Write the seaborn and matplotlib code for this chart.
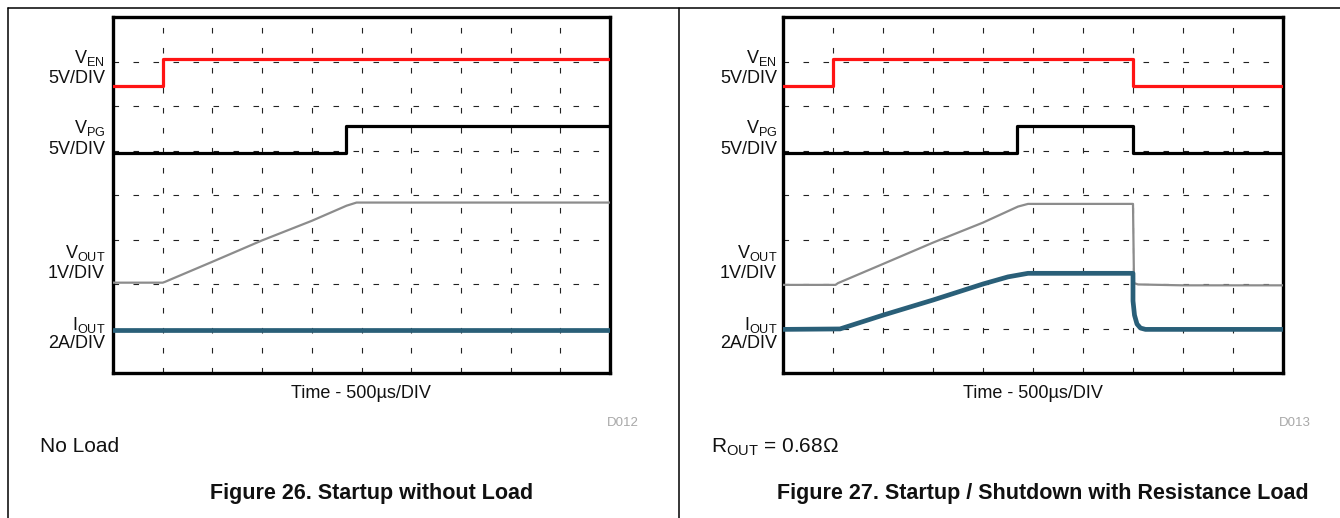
import matplotlib
matplotlib.use("Agg")
import matplotlib.pyplot as plt
from matplotlib.lines import Line2D
import seaborn as sns

# ---------------- data (time in divisions, amplitude in divisions) ----------------
# Figure 26 - Startup without load
t_en_L = [0, 1.0, 1.0, 10]
v_en_L = [6.45, 6.45, 7.06, 7.06]
t_pg_L = [0, 4.69, 4.69, 10]
v_pg_L = [4.95, 4.95, 5.55, 5.55]
t_out_L = [0, 1.0, 1.05, 2.0, 3.0, 4.0, 4.7, 4.9, 10]
v_out_L = [2.03, 2.03, 2.05, 2.50, 2.98, 3.42, 3.76, 3.83, 3.83]
t_iout_L = [0, 10]
v_iout_L = [0.97, 0.97]

# Figure 27 - Startup / shutdown with resistance load
t_en_R = [0, 1.0, 1.0, 7.0, 7.0, 10]
v_en_R = [6.45, 6.45, 7.06, 7.06, 6.45, 6.45]
t_pg_R = [0, 4.68, 4.68, 7.0, 7.0, 10]
v_pg_R = [4.95, 4.95, 5.55, 5.55, 4.95, 4.95]
t_out_R = [0, 1.05, 1.1, 2.0, 3.0, 4.0, 4.7, 4.9, 7.0, 7.02, 7.1, 8.0, 10]
v_out_R = [1.98, 1.98, 2.02, 2.45, 2.93, 3.38, 3.74, 3.80, 3.80, 2.02, 1.99, 1.97, 1.97]
t_iout_R = [0, 1.14, 2.0, 3.0, 4.0, 4.5, 4.9, 7.0, 7.0, 7.03, 7.08, 7.15, 7.25, 10]
v_iout_R = [0.98, 0.99, 1.30, 1.64, 2.00, 2.16, 2.24, 2.24, 1.62, 1.30, 1.10, 1.01, 0.98, 0.98]

ch_labels = [("V", "EN", "5V/DIV"), ("V", "PG", "5V/DIV"), ("V", "OUT", "1V/DIV"), ("I", "OUT", "2A/DIV")]
x_label = "Time - 500µs/DIV"
codes = ["D012", "D013"]
titles = ["Figure 26. Startup without Load", "Figure 27. Startup / Shutdown with Resistance Load"]

# ---------------- style ----------------
sns.set_theme(style="white")
plt.rcParams["font.family"] = ["Liberation Sans", "DejaVu Sans"]
plt.rcParams["mathtext.fontset"] = "custom"
plt.rcParams["mathtext.rm"] = "Liberation Sans"
plt.rcParams["mathtext.it"] = "Liberation Sans"

W, H = 1340, 518
fig = plt.figure(figsize=(W / 100, H / 100), dpi=100)
fig.patch.set_facecolor("white")

def fx(px):
    return px / W

def fy(py):
    return 1 - py / H

C_EN = "#ff1414"
C_PG = "#000000"
C_OUT = "#8c8c8c"
C_I = "#2a5f78"

panels = [
    dict(left=113, right=610, series=[(t_en_L, v_en_L), (t_pg_L, v_pg_L), (t_out_L, v_out_L), (t_iout_L, v_iout_L)],
         lab_x=105, cap_x=40, caption=r"No Load", time_x=361, code_x=639, title_x=372),
    dict(left=783, right=1283, series=[(t_en_R, v_en_R), (t_pg_R, v_pg_R), (t_out_R, v_out_R), (t_iout_R, v_iout_R)],
         lab_x=777, cap_x=711, caption=r"R$_{\mathregular{OUT}}$ = 0.68Ω", time_x=1033, code_x=1311, title_x=1043),
]

top_px, bot_px = 17, 373
styles = [(C_EN, 2.3), (C_PG, 2.3), (C_OUT, 1.6), (C_I, 3.4)]

for i, p in enumerate(panels):
    ax = fig.add_axes([fx(p["left"]), fy(bot_px), (p["right"] - p["left"]) / W, (bot_px - top_px) / H])
    ax.set_xlim(0, 10)
    ax.set_ylim(0, 8)
    for k in range(1, 10):
        ax.axvline(k, color="#222222", lw=0.8, dashes=(5, 13), zorder=1)
    for k in range(1, 8):
        ax.axhline(k, color="#222222", lw=0.8, dashes=(5, 13), zorder=1)
    for (t, v), (c, lw) in zip(p["series"], styles):
        sns.lineplot(x=t, y=v, ax=ax, color=c, linewidth=lw, estimator=None, sort=False, zorder=3)
    ax.set_xticks([])
    ax.set_yticks([])
    ax.set_xlabel("")
    ax.set_ylabel("")
    for s in ax.spines.values():
        s.set_visible(True)
        s.set_color("black")
        s.set_linewidth(2.4)

    # channel labels
    base = [(63, 83), (133, 154), (258, 278), (330, 348)]
    for (sym, sub, scale), (b1, b2) in zip(ch_labels, base):
        fig.text(fx(p["lab_x"]), fy(b1), sym + r"$_{\mathregular{" + sub + "}}$", ha="right", va="baseline",
                 fontsize=13, color="#111111")
        fig.text(fx(p["lab_x"]), fy(b2), scale, ha="right", va="baseline", fontsize=13, color="#111111")

    fig.text(fx(p["time_x"]), fy(394), x_label, ha="center", va="center", fontsize=13, color="#111111")
    fig.text(fx(p["code_x"]), fy(423), codes[i], ha="right", va="center", fontsize=9.5, color="#a8a8a8")
    fig.text(fx(p["cap_x"]), fy(447), p["caption"], ha="left", va="center", fontsize=15, color="#111111")
    fig.text(fx(p["title_x"]), fy(494), titles[i], ha="center", va="center", fontsize=15.5,
             fontweight="bold", color="#111111")

# page frame lines
fig.add_artist(Line2D([fx(8), 1.0], [fy(8), fy(8)], transform=fig.transFigure, color="black", lw=1.1))
fig.add_artist(Line2D([fx(8), fx(8)], [fy(8), 0], transform=fig.transFigure, color="black", lw=1.1))
fig.add_artist(Line2D([fx(679), fx(679)], [fy(8), 0], transform=fig.transFigure, color="black", lw=1.1))

fig.savefig("out.png", dpi=100)
